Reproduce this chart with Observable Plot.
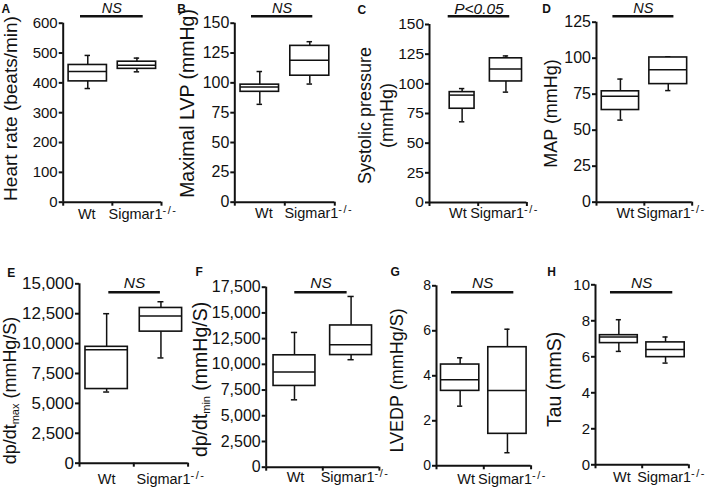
<!DOCTYPE html>
<html>
<head>
<meta charset="utf-8">
<script src="https://cdn.jsdelivr.net/npm/d3@7"></script>
<script src="https://cdn.jsdelivr.net/npm/@observablehq/plot@0.6"></script>
<style>
  body { margin: 0; background: #fff; }
  #fig { position: relative; width: 709px; height: 488px; overflow: hidden; background: #fff; }
  #fig svg { position: absolute; }
</style>
</head>
<body>
<div id="fig"></div>
<script>
// ---------------- data ----------------
const groups = ["Wt", "Sigmar1-/-"];
const panelIds = ["A", "B", "C", "D", "E", "F", "G", "H"];
const yTitles = [
  "Heart rate (beats/min)",
  "Maximal LVP (mmHg)",
  "Systolic pressure\n(mmHg)",
  "MAP (mmHg)",
  "dp/dtmax (mmHg/S)",
  "dp/dtmin (mmHg/S)",
  "LVEDP (mmHg/S)",
  "Tau (mmS)"
];
const pLabels = ["NS", "NS", "P<0.05", "NS", "NS", "NS", "NS", "NS"];
const yMax  = [600, 150, 150, 125, 15000, 17500, 8, 10];
const yStep = [100, 25, 25, 25, 2500, 2500, 2, 2];
// each entry: [Wt, Sigmar1-/-]
const whiskerLow  = [[381, 437], [82, 99],    [68, 93],     [57, 77.5],   [5950, 8800],   [6550, 10450],  [2.65, 0.58], [6.3, 5.65]];
const quartile1   = [[405, 447], [92.5, 106], [79, 102],    [64, 82],     [6200, 11000],  [7900, 10900],  [3.33, 1.42], [6.76, 5.98]];
const medianVal   = [[438, 459], [96.5, 119], [90.5, 112.5],[73.5, 92],   [9480, 12300],  [9250, 11900],  [3.82, 3.35], [7.1, 6.4]];
const quartile3   = [[460, 471], [98.5, 131], [93, 121.5],  [77, 100.5],  [9730, 12980],  [10880, 13780], [4.5, 5.27],  [7.2, 6.8]];
const whiskerHigh = [[492, 483], [109.5, 134.5], [96, 123.5], [85.5, 101], [12500, 13500], [13100, 16600], [4.8, 6.07],  [8.06, 7.1]];

// ---------------- layout (page pixels) ----------------
const layout = [
  {left: 0,   top: 0,   bottom: 240, ax0: 62.7,  axEnd: 161,   yTop: 22.7,  yBot: 201.7, tickFs: 15,   xBase: 218, xShift: [-1, 6], title: [16.5, 108, 19],  letter: [1, 12.7],     bar: [0.352, 1.628], barDy: -7,   nsFs: 14.5, nsGap: 7.5, centers: [0.5, 1.5],   boxW: [0.78, 0.78]},
  {left: 175, top: 0,   bottom: 240, ax0: 234.3, axEnd: 334.3, yTop: 22.7,  yBot: 201.7, tickFs: 16,   xBase: 218, xShift: [4, 9],  title: [193, 103, 19.5], letter: [176.7, 12.7], bar: [0.334, 1.56],  barDy: -7,   nsFs: 14.5, nsGap: 7.5, centers: [0.5, 1.5],   boxW: [0.77, 0.78]},
  {left: 350, top: 0,   bottom: 240, ax0: 429,   axEnd: 526.4, yTop: 24,    yBot: 202,   tickFs: 15.5, xBase: 218, xShift: [4, 2],  title: [370.5, 115, 18], letter: [357, 13],     bar: [0.384, 1.648], barDy: -8.3, nsFs: 15.5, nsGap: 7.5, centers: [0.67, 1.57], boxW: [0.51, 0.66]},
  {left: 525, top: 0,   bottom: 240, ax0: 596,   axEnd: 691.7, yTop: 21.7,  yBot: 201.7, tickFs: 16,   xBase: 218, xShift: [5, 3],  title: [556, 113, 18],   letter: [541.7, 12.7], bar: [0.343, 1.618], barDy: -6,   nsFs: 14.5, nsGap: 7.5, centers: [0.5, 1.5],   boxW: [0.78, 0.79]},
  {left: 0,   top: 244, bottom: 488, ax0: 79,    axEnd: 187.6, yTop: 283.3, yBot: 462.7, tickFs: 17,   xBase: 484, xShift: [0, 10], title: [15, 390, 18],    letter: [6.7, 276.7],  bar: [0.54, 1.49],   barDy: 8.4,  nsFs: 15.5, nsGap: 9,   centers: [0.5, 1.5],   boxW: [0.78, 0.78]},
  {left: 180, top: 244, bottom: 488, ax0: 265.7, axEnd: 378.9, yTop: 286.7, yBot: 466.7, tickFs: 16,   xBase: 482, xShift: [1, 4],  title: [206, 379, 19.5], letter: [195, 275],    bar: [0.505, 1.43],  barDy: 5,    nsFs: 15.5, nsGap: 9,   centers: [0.5, 1.5],   boxW: [0.74, 0.74]},
  {left: 355, top: 244, bottom: 488, ax0: 436,   axEnd: 530.6, yTop: 285.3, yBot: 465.3, tickFs: 14,   xBase: 484, xShift: [6, 5],  title: [402, 380, 18],   letter: [390, 275],    bar: [0.317, 1.635], barDy: 6.4,  nsFs: 15.5, nsGap: 9,   centers: [0.5, 1.5],   boxW: [0.81, 0.81]},
  {left: 530, top: 244, bottom: 488, ax0: 595,   axEnd: 688.4, yTop: 284.3, yBot: 464.3, tickFs: 15,   xBase: 482, xShift: [3, 6],  title: [560, 379, 19.5], letter: [546.7, 275],  bar: [0.321, 1.655], barDy: 7.4,  nsFs: 15.5, nsGap: 9,   centers: [0.5, 1.5],   boxW: [0.81, 0.82]}
];

const ink = "#111";
const font = "'Liberation Sans', Arial, Helvetica, sans-serif";
const fig = document.getElementById("fig");
const SVGNS = "http://www.w3.org/2000/svg";

panelIds.forEach((id, p) => {
  const L = layout[p];
  const rows = groups.map((g, i) => ({
    group: g, pos: L.centers[i], half: L.boxW[i] / 2,
    lo: whiskerLow[p][i], q1: quartile1[p][i], med: medianVal[p][i], q3: quartile3[p][i], hi: whiskerHigh[p][i]
  }));
  const cap = 0.055;
  const fmt = yMax[p] >= 1000 ? d3.format(",") : d3.format("d");
  const xFs = 14.5;
  const tFs = L.title[2];
  const multi = yTitles[p].includes("\n");
  const titleLH = 1.25;
  // anchor so that baseline (first line) lands at L.title[0]
  const titleAnchorX = multi ? L.title[0] + 0.18 * titleLH * tFs : L.title[0] - 0.32 * tFs;

  const chart = Plot.plot({
    width: L.axEnd + 20 - L.left,
    height: L.bottom - L.top,
    marginLeft: L.ax0 - L.left,
    marginRight: 20,
    marginTop: L.yTop - L.top,
    marginBottom: L.bottom - L.yBot,
    x: {domain: [0, 2]},
    y: {domain: [0, yMax[p]]},
    style: {fontFamily: font, color: ink, background: "transparent", overflow: "visible"},
    marks: [
      // whiskers
      Plot.ruleX(rows, {x: "pos", y1: "lo", y2: "hi", stroke: ink, strokeWidth: 1.5}),
      Plot.ruleY(rows, {y: "lo", x1: d => d.pos - cap, x2: d => d.pos + cap, stroke: ink, strokeWidth: 1.5}),
      Plot.ruleY(rows, {y: "hi", x1: d => d.pos - cap, x2: d => d.pos + cap, stroke: ink, strokeWidth: 1.5}),
      // boxes
      Plot.rect(rows, {x1: d => d.pos - d.half, x2: d => d.pos + d.half, y1: "q1", y2: "q3", fill: "white", stroke: ink, strokeWidth: 1.6}),
      // medians
      Plot.ruleY(rows, {y: "med", x1: d => d.pos - d.half, x2: d => d.pos + d.half, stroke: ink, strokeWidth: 1.5}),
      // axis lines
      Plot.ruleX([0], {stroke: ink, strokeWidth: 2}),
      Plot.ruleY([0], {stroke: ink, strokeWidth: 2}),
      Plot.axisY({ticks: d3.range(0, yMax[p] + yStep[p] / 2, yStep[p]), tickSize: 4, tickPadding: 1.5, tickFormat: fmt, fontSize: L.tickFs, label: null, stroke: ink, strokeWidth: 2}),
      Plot.axisX({ticks: [0, 1, 2], tickSize: 4, tickFormat: () => "", label: null, stroke: ink, strokeWidth: 2}),
      Plot.axisX({ticks: [0.5, 1.5], tickSize: 0, tickPadding: L.xBase - L.yBot - 0.71 * xFs, tickFormat: v => groups[Math.floor(v)], fontSize: xFs, label: null}),
      // significance bar and label
      Plot.ruleY([yMax[p]], {x1: L.bar[0], x2: L.bar[1], dy: L.barDy, stroke: ink, strokeWidth: 2.6}),
      Plot.text([pLabels[p]], {x: (L.bar[0] + L.bar[1]) / 2, frameAnchor: "top", lineAnchor: "middle", textAnchor: "middle", dy: L.barDy - L.nsGap, text: d => d, fontStyle: "italic", fontSize: L.nsFs, fill: ink}),
      // panel letter
      Plot.text([id], {frameAnchor: "top-left", lineAnchor: "middle", textAnchor: "start", dx: L.letter[0] - L.ax0, dy: L.letter[1] - 0.32 * 12 - L.yTop, text: d => d, fontWeight: "bold", fontSize: 12, fill: ink}),
      // y title
      Plot.text([yTitles[p]], {frameAnchor: "top-left", lineAnchor: "middle", textAnchor: "middle", rotate: -90, dx: titleAnchorX - L.ax0, dy: L.title[1] - L.yTop, text: d => d, fontSize: tFs, lineHeight: multi ? titleLH : 1, fill: ink})
    ]
  });
  chart.style.left = L.left + "px";
  chart.style.top = L.top + "px";

  // rich text: superscript on genotype label, subscripts on dp/dt titles
  chart.querySelectorAll("text").forEach(t => {
    const s = t.textContent;
    if (s === "Sigmar1-/-") {
      t.textContent = "Sigmar1";
      const sup = document.createElementNS(SVGNS, "tspan");
      sup.setAttribute("dy", "-5");
      sup.setAttribute("font-size", "11");
      sup.setAttribute("letter-spacing", "1.5");
      sup.textContent = "-/-";
      t.appendChild(sup);
      const tr = t.getAttribute("transform") || "";
      t.setAttribute("transform", tr + ` translate(${L.xShift[1]},0)`);
    } else if (s === "Wt") {
      const tr = t.getAttribute("transform") || "";
      t.setAttribute("transform", tr + ` translate(${L.xShift[0]},0)`);
    } else if (s === "dp/dtmax (mmHg/S)" || s === "dp/dtmin (mmHg/S)") {
      const sub = s.slice(5, 8);
      t.textContent = "dp/dt";
      const a = document.createElementNS(SVGNS, "tspan");
      a.setAttribute("dy", "3");
      a.setAttribute("font-size", "11");
      a.textContent = sub;
      const b = document.createElementNS(SVGNS, "tspan");
      b.setAttribute("dy", "-3");
      b.textContent = " (mmHg/S)";
      t.appendChild(a);
      t.appendChild(b);
    }
  });
  fig.appendChild(chart);
});
</script>
</body>
</html>
